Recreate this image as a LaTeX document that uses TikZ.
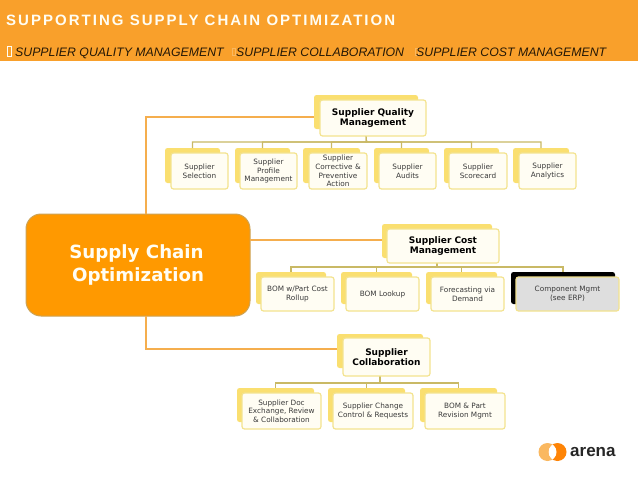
\documentclass[tikz,border=0pt]{standalone}
\usepackage{fontspec}
\setmainfont{DejaVu Sans}
\newfontfamily\headfont{Liberation Sans}
\newfontfamily\headspaced[LetterSpace=13.5]{Liberation Sans}
\newfontfamily\logofont{Liberation Sans}
\definecolor{hdr}{HTML}{F9A02B}
\definecolor{backy}{HTML}{FADF70}
\definecolor{fronty}{HTML}{FFFDF3}
\definecolor{edgey}{HTML}{F3E38F}
\definecolor{bus}{HTML}{C9B965}
\definecolor{trunkc}{HTML}{F5AE4E}
\definecolor{core}{HTML}{FF9900}
\definecolor{coreedge}{HTML}{CDA355}
\definecolor{boxtext}{HTML}{3A3A3A}
\tikzset{
  boxbase/.style={inner sep=0pt,outer sep=0pt,rounded corners=2.5pt,align=center},
  backbox/.style={boxbase,fill=backy},
  frontbox/.style={boxbase,fill=fronty,draw=edgey,line width=1.2pt,text=boxtext,font=\fontsize{7.3}{8.7}\selectfont},
  headbox/.style={frontbox,text=black,font=\fontsize{9}{10}\selectfont\bfseries},
  buslink/.style={draw=bus,line width=1.1pt},
  trunklink/.style={draw=trunkc,line width=1.1pt},
  subhead/.style={anchor=base west,inner sep=0pt,text=black!85!hdr,font=\headfont\itshape\fontsize{12.3}{15}\selectfont},
  bulletmark/.style={draw=#1,fill=none,line width=0.7pt}
}
\newcommand{\bk}[5]{\node[backbox,minimum width={(#4-#2)*1pt},minimum height={(#5-#3)*1pt}] (#1) at ({(#2+#4)/2},{(#3+#5)/2}) {};}
\newcommand{\fr}[7][frontbox]{\node[#1,minimum width={(#5-#3)*1pt},minimum height={(#6-#4)*1pt}] (#2) at ({(#3+#5)/2},{(#4+#6)/2}) {#7};}
\begin{document}
\begin{tikzpicture}[x=1pt,y=-1pt]
\useasboundingbox (0,0) rectangle (638,479);
\fill[white] (0,0) rectangle (638,479);
% header
\fill[hdr] (0,0) rectangle (638,60.5);
\node[anchor=west,inner sep=0pt,text=fronty,font=\headspaced\bfseries\fontsize{15}{17}\selectfont] (title) at (6,20.5) {SUPPORTING SUPPLY CHAIN OPTIMIZATION};
\draw[bulletmark=fronty,line width=1pt] (7,46) rectangle (11,56);
\node[subhead] (s1) at (15,56.5) {SUPPLIER QUALITY MANAGEMENT};
\draw[bulletmark=hdr!75!white] (232,48) rectangle (235,55);
\node[subhead] (s2) at (236,56.5) {SUPPLIER COLLABORATION};
\draw[bulletmark=hdr!75!white] (415,48) rectangle (418,55);
\node[subhead] (s3) at (416,56.5) {SUPPLIER COST MANAGEMENT};
% back boxes
\bk{qb}{314}{95}{418}{129}
\bk{a1b}{165}{148}{220}{183}
\bk{a2b}{235}{148}{290}{183}
\bk{a3b}{303}{148}{360}{183}
\bk{a4b}{374}{148}{429}{183}
\bk{a5b}{444}{148}{499}{183}
\bk{a6b}{513}{148}{569}{183}
\bk{cb}{382}{224}{492}{258}
\bk{c1b}{256}{272}{326}{304}
\bk{c2b}{341}{272}{412}{304}
\bk{c3b}{426}{272}{497}{304}
\node[boxbase,fill=black,minimum width=104pt,minimum height=32pt] (c4b) at (563,288) {};
\bk{db}{337}{334}{423}{368}
\bk{d1b}{237}{388}{314}{422}
\bk{d2b}{328}{388}{405}{422}
\bk{d3b}{420}{388}{497}{422}
% connectors
\foreach \c in {a1b,a2b,a3b,a4b,a5b,a6b}
  \draw[buslink] (qb.south) -- (366.5,142) -| (\c.north);
\foreach \c in {c1b,c2b,c3b,c4b}
  \draw[buslink] (437,258) -- (437,267) -| (\c.north);
\foreach \c in {d1b,d2b,d3b}
  \draw[buslink] (380,368) -- (380,383) -| (\c.north);
% fronts
\fr[headbox]{q}{320}{100}{426}{136}{Supplier Quality\\Management}
\fr{a1}{171}{153}{228}{189}{Supplier\\Selection}
\fr{a2}{240}{153}{297}{189}{Supplier\\Profile\\Management}
\fr{a3}{309}{153}{367}{189}{Supplier\\Corrective \&\\Preventive\\Action}
\fr{a4}{379}{153}{436}{189}{Supplier\\Audits}
\fr{a5}{449}{153}{507}{189}{Supplier\\Scorecard}
\fr{a6}{519}{153}{576}{189}{Supplier\\Analytics}
\fr[headbox]{c}{387}{229}{499}{263}{Supplier Cost\\Management}
\fr{c1}{261}{277}{334}{311}{BOM w/Part Cost\\Rollup}
\fr{c2}{346}{277}{419}{311}{BOM Lookup}
\fr{c3}{431}{277}{504}{311}{Forecasting via\\Demand}
\fr[frontbox,fill=black!13]{c4}{516}{277}{619}{311}{Component Mgmt\\(see ERP)}
\fr[headbox]{d}{343}{338}{430}{376}{Supplier\\Collaboration}
\fr{d1}{242}{393}{321}{429}{Supplier Doc\\Exchange, Review\\\&\ Collaboration}
\fr{d2}{333}{393}{413}{429}{Supplier Change\\Control \&\ Requests}
\fr{d3}{425}{393}{505}{429}{BOM \&\ Part\\Revision Mgmt}
% central node
\node[boxbase,rounded corners=15pt,fill=core,draw=coreedge,line width=1pt,minimum width=224pt,minimum height=102pt,text=fronty,font=\fontsize{18.2}{21.7}\selectfont\bfseries] (core) at (138,265) {\raisebox{-3pt}{Supply Chain\hspace{3pt}}\\[1pt]\raisebox{-3pt}{Optimization}};
\coordinate (trunk) at (146,0);
\draw[trunklink] (core.north -| trunk) |- (qb.west |- 0,117);
\draw[trunklink] (core.south -| trunk) |- (db.west |- 0,349);
\draw[trunklink] (core.east |- 0,240) -- (cb.west |- 0,240);
% logo
\fill[hdr!75!white] (547.5,452) circle[radius=9];
\fill[orange!85!hdr] (557.5,452) circle[radius=9];
\begin{scope}
\clip (547.5,452) circle[radius=9];
\fill[white] (557.5,452) circle[radius=9];
\end{scope}
\node[anchor=west,inner sep=0pt,font=\logofont\bfseries\fontsize{17}{18}\selectfont,text=black!85] (logo) at (570,452) {arena};
\end{tikzpicture}
\end{document}
